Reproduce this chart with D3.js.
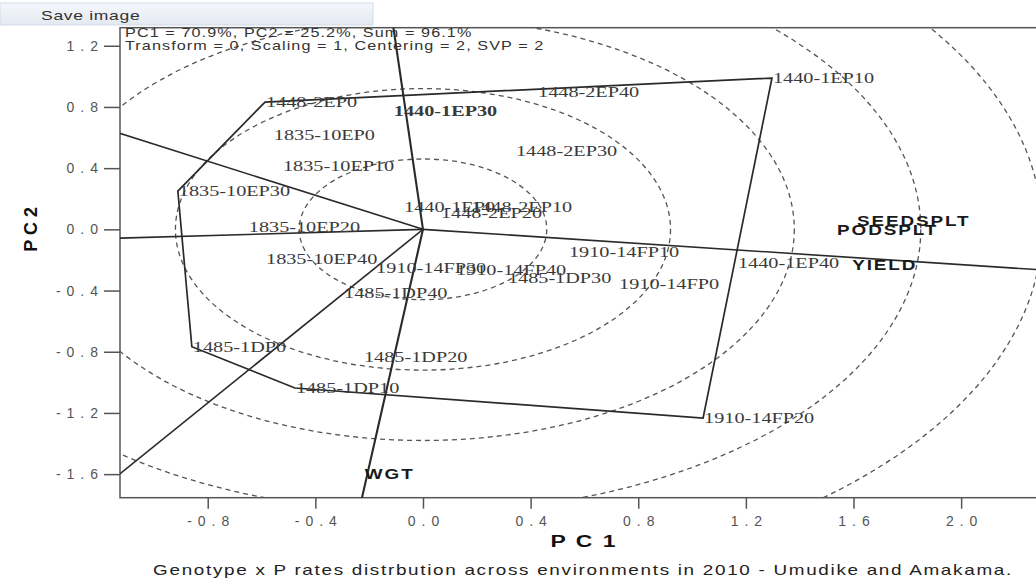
<!DOCTYPE html>
<html>
<head>
<meta charset="utf-8">
<script src="https://cdn.jsdelivr.net/npm/d3@7"></script>
<style>
body { margin: 0; background: #fff; }
svg { display: block; }
</style>
</head>
<body>
<svg id="chart" width="1036" height="581"></svg>
<script>
// GGE biplot scores
var genotypes = ['1448-2EP0', '1440-1EP30', '1448-2EP40', '1440-1EP10', '1835-10EP0', '1448-2EP30',
                 '1835-10EP10', '1835-10EP30', '1440-1EP0', '1448-2EP10', '1448-2EP20', '1835-10EP20',
                 '1835-10EP40', '1910-14FP30', '1910-14FP40', '1485-1DP30', '1910-14FP10', '1910-14FP0',
                 '1440-1EP40', '1485-1DP40', '1485-1DP0', '1485-1DP20', '1485-1DP10', '1910-14FP20'];
var pc1 = [-0.587, -0.112, 0.424, 1.297, -0.558, 0.342,
           -0.524, -0.911, -0.074, 0.175, 0.063, -0.651,
           -0.587, -0.178, 0.119, 0.312, 0.539, 0.725,
           1.167, -0.297, -0.859, -0.223, -0.476, 1.041];
var pc2 = [0.832, 0.773, 0.897, 0.989, 0.616, 0.512,
           0.414, 0.250, 0.146, 0.146, 0.106, 0.015,
           -0.194, -0.253, -0.267, -0.318, -0.148, -0.358,
           -0.220, -0.416, -0.767, -0.832, -1.037, -1.233];
var boldGenotypes = ['1440-1EP30'];
var hullOrder = ['1440-1EP10', '1448-2EP0', '1835-10EP30', '1485-1DP0', '1485-1DP10', '1910-14FP20'];

var environments = ['SEEDSPLT', 'PODSPLT', 'YIELD', 'WGT'];
var envPc1 = [1.613, 1.539, 1.595, -0.216];
var envPc2 = [0.054, -0.005, -0.233, -1.597];

var circleRadii = [0.46, 0.92, 1.38, 1.85, 2.30];
var xTicks = [-0.8, -0.4, 0.0, 0.4, 0.8, 1.2, 1.6, 2.0];
var yTicks = [1.2, 0.8, 0.4, 0.0, -0.4, -0.8, -1.2, -1.6];

var headerLines = ['PC1 = 70.9%, PC2 = 25.2%, Sum = 96.1%',
                   'Transform = 0, Scaling = 1, Centering = 2, SVP = 2'];
var xTitle = 'P C 1';
var yTitle = 'P C 2';
var caption = 'Genotype x P rates distrbution across environments in 2010 - Umudike and Amakama.';

class Biplot {
    constructor(svg) {
        this.svg = svg;
        this.x = d3.scaleLinear().domain([-1.126, 2.36]).range([120, 1058]);
        this.y = d3.scaleLinear().domain([1.318, -1.754]).range([27.7, 497.7]);
        this.stretch = 1.35;
    }
    point (name) {
        var i = genotypes.indexOf(name);
        return [pc1[i], pc2[i]];
    }
    // stretch text sideways like the source screenshot
    placeText (sel, fx, fy, sx) {
        sel.attr('transform', function (d, i) {
            return 'translate(' + fx(d, i) + ',' + fy(d, i) + ') scale(' + sx + ',1)';
        });
    }
    draw () {
        this.drawToolbar();
        this.drawFrame();
        this.drawCircles();
        this.drawHull();
        this.drawRays();
        this.drawLabels();
        this.drawAxes();
        this.drawTitles();
    }
    drawToolbar () {
        var defs = this.svg.append('defs');
        var grad = defs.append('linearGradient').attr('id', 'bar').attr('x1', 0).attr('y1', 0).attr('x2', 0).attr('y2', 1);
        grad.append('stop').attr('offset', '0%').attr('stop-color', '#f5f8fc');
        grad.append('stop').attr('offset', '100%').attr('stop-color', '#e3e9f1');
        defs.append('clipPath').attr('id', 'plotclip')
            .append('rect')
            .attr('x', this.x.range()[0]).attr('y', this.y.range()[0])
            .attr('width', this.x.range()[1] - this.x.range()[0])
            .attr('height', this.y.range()[1] - this.y.range()[0]);

        this.svg.append('rect')
            .attr('x', 0).attr('y', 3).attr('width', 373).attr('height', 22)
            .attr('fill', 'url(#bar)').attr('stroke', '#d3dbe6');
        var t = this.svg.append('text')
            .datum('Save image')
            .attr('font-family', 'Arial, "Liberation Sans", sans-serif')
            .attr('font-size', 13).attr('fill', '#333')
            .attr('letter-spacing', 0.5)
            .attr('dy', '0.35em')
            .text(function (d) { return d; });
        this.placeText(t, function () { return 41; }, function () { return 15; }, this.stretch);
    }
    drawFrame () {
        this.svg.append('rect')
            .attr('x', this.x.range()[0]).attr('y', this.y.range()[0])
            .attr('width', this.x.range()[1] - this.x.range()[0])
            .attr('height', this.y.range()[1] - this.y.range()[0])
            .attr('fill', 'none').attr('stroke', '#555').attr('stroke-width', 1.5);

        this.plot = this.svg.append('g').attr('clip-path', 'url(#plotclip)');
    }
    drawCircles () {
        var x = this.x, y = this.y;
        this.plot.selectAll('ellipse.ring')
            .data(circleRadii)
            .enter()
            .append('ellipse')
            .attr('class', 'ring')
            .attr('cx', x(0)).attr('cy', y(0))
            .attr('rx', function (r) { return x(r) - x(0); })
            .attr('ry', function (r) { return y(0) - y(r); })
            .attr('fill', 'none')
            .attr('stroke', '#555')
            .attr('stroke-width', 1.3)
            .attr('stroke-dasharray', '5,4');
    }
    drawHull () {
        var x = this.x, y = this.y, self = this;
        var pts = hullOrder.map(function (n) { return self.point(n); });
        var line = d3.line()
            .x(function (d) { return x(d[0]); })
            .y(function (d) { return y(d[1]); })
            .curve(d3.curveLinearClosed);
        this.plot.append('path')
            .attr('d', line(pts))
            .attr('fill', 'none')
            .attr('stroke', '#2a2a2a')
            .attr('stroke-width', 1.7);
    }
    drawRays () {
        var x = this.x, y = this.y, self = this;
        var rays = [];
        // each ray is perpendicular to one side of the polygon
        for (var i = 0; i < hullOrder.length; i++) {
            var a = self.point(hullOrder[i]);
            var b = self.point(hullOrder[(i + 1) % hullOrder.length]);
            var nx = b[1] - a[1], ny = -(b[0] - a[0]);
            if (nx * a[0] + ny * a[1] < 0) { nx = -nx; ny = -ny; }
            var len = Math.sqrt(nx * nx + ny * ny);
            rays.push([nx / len * 6, ny / len * 6]);
        }
        this.plot.selectAll('line.ray')
            .data(rays)
            .enter()
            .append('line')
            .attr('class', 'ray')
            .attr('x1', x(0)).attr('y1', y(0))
            .attr('x2', function (d) { return x(d[0]); })
            .attr('y2', function (d) { return y(d[1]); })
            .attr('stroke', '#2a2a2a')
            .attr('stroke-width', function (d) { return Math.abs(d[1]) > Math.abs(d[0]) * 2 ? 2.1 : 1.6; });
    }
    drawLabels () {
        var x = this.x, y = this.y;
        var g = this.plot.selectAll('text.geno')
            .data(genotypes)
            .enter()
            .append('text')
            .attr('class', 'geno')
            .attr('font-family', '"Liberation Serif", "Times New Roman", serif')
            .attr('font-size', 15)
            .attr('font-weight', function (d) { return boldGenotypes.indexOf(d) >= 0 ? 'bold' : 'normal'; })
            .attr('fill', '#3a3a3a')
            .attr('dy', '0.35em')
            .text(function (d) { return d; });
        this.placeText(g,
            function (d, i) { return x(pc1[i]) + 1; },
            function (d, i) { return y(pc2[i]); }, this.stretch);

        var e = this.plot.selectAll('text.env')
            .data(environments)
            .enter()
            .append('text')
            .attr('class', 'env')
            .attr('font-family', 'Arial, "Liberation Sans", sans-serif')
            .attr('font-size', 14)
            .attr('font-weight', 'bold')
            .attr('letter-spacing', 1.4)
            .attr('fill', '#1a1a1a')
            .attr('dy', '0.36em')
            .text(function (d) { return d; });
        this.placeText(e,
            function (d, i) { return x(envPc1[i]); },
            function (d, i) { return y(envPc2[i]); }, this.stretch);

        var h = this.svg.selectAll('text.header')
            .data(headerLines)
            .enter()
            .append('text')
            .attr('class', 'header')
            .attr('font-family', 'Arial, "Liberation Sans", sans-serif')
            .attr('font-size', 12)
            .attr('letter-spacing', 0.8)
            .attr('fill', '#333')
            .attr('dy', '0.35em')
            .text(function (d) { return d; });
        this.placeText(h,
            function () { return 125; },
            function (d, i) { return 33 + i * 13; }, this.stretch);
    }
    drawAxes () {
        var x = this.x, y = this.y;
        var fmt = function (d) { return d3.format('.1f')(d).replace('\u2212', '-'); };

        var ay = this.svg.append('g')
            .attr('transform', 'translate(' + x.range()[0] + ',0)')
            .call(d3.axisLeft(y).tickValues(yTicks).tickSize(16).tickPadding(6).tickFormat(fmt));
        var ax = this.svg.append('g')
            .attr('transform', 'translate(0,' + y.range()[1] + ')')
            .call(d3.axisBottom(x).tickValues(xTicks).tickSize(11).tickPadding(7).tickFormat(fmt));

        [ay, ax].forEach(function (a) {
            a.select('.domain').remove();
            a.selectAll('line').attr('stroke', '#555').attr('stroke-width', 1.5);
            a.selectAll('text')
                .attr('font-family', 'Arial, "Liberation Sans", sans-serif')
                .attr('font-size', 14)
                .attr('letter-spacing', 6)
                .attr('fill', '#555');
        });
        ay.selectAll('text').attr('dx', 6);
        ax.selectAll('text').attr('dx', 3);
    }
    drawTitles () {
        var x = this.x, y = this.y;
        this.svg.append('text')
            .attr('transform', 'translate(37,' + y(0) + ') rotate(-90)')
            .attr('text-anchor', 'middle')
            .attr('font-family', 'Arial, "Liberation Sans", sans-serif')
            .attr('font-size', 18).attr('font-weight', 'bold')
            .attr('fill', '#111')
            .text(yTitle);

        var t = this.svg.append('text')
            .datum(xTitle)
            .attr('text-anchor', 'middle')
            .attr('font-family', 'Arial, "Liberation Sans", sans-serif')
            .attr('font-size', 17).attr('font-weight', 'bold')
            .attr('letter-spacing', 1.5)
            .attr('fill', '#111')
            .attr('dy', '0.35em')
            .text(function (d) { return d; });
        this.placeText(t, function () { return 584; }, function () { return 541; }, this.stretch);

        var c = this.svg.append('text')
            .datum(caption)
            .attr('text-anchor', 'middle')
            .attr('font-family', 'Arial, "Liberation Sans", sans-serif')
            .attr('font-size', 14)
            .attr('letter-spacing', 1.25)
            .attr('fill', '#222')
            .attr('dy', '0.35em')
            .text(function (d) { return d; });
        this.placeText(c, function () { return 583; }, function () { return 570; }, this.stretch);
    }
}

var chart = new Biplot(d3.select('#chart'));
chart.draw();
</script>
</body>
</html>
